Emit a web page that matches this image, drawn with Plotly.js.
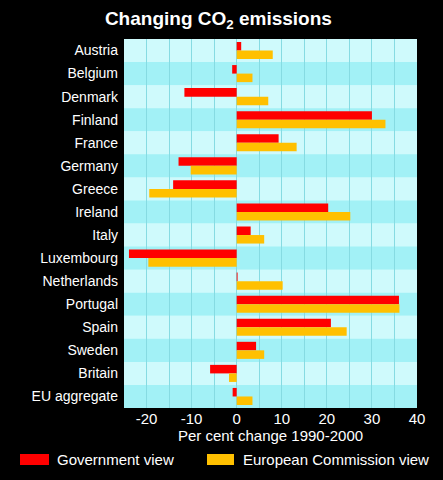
<!DOCTYPE html>
<html>
<head>
<meta charset="utf-8">
<script src="https://cdn.plot.ly/plotly-3.0.1.min.js"></script>
<style>
  html, body { margin: 0; padding: 0; background: #000; }
  #chart { width: 443px; height: 480px; }
</style>
</head>
<body>
<div id="chart"></div>
<script>
const countries = ["Austria", "Belgium", "Denmark", "Finland", "France", "Germany", "Greece", "Ireland",
  "Italy", "Luxembourg", "Netherlands", "Portugal", "Spain", "Sweden", "Britain", "EU aggregate"];
const governmentView = [1, -1, -11.6, 30, 9.3, -12.9, -14.1, 20.3, 3.1, -23.9, 0.2, 36, 20.9, 4.3, -5.9, -0.9];
const commissionView = [8, 3.5, 7, 33, 13.3, -10.2, -19.4, 25.2, 6.1, -19.6, 10.2, 36.1, 24.4, 6.1, -1.7, 3.5];
const xTicks = [-20, -10, 0, 10, 20, 30, 40];
const seriesNames = ["Government view", "European Commission view"];
const seriesColors = ["#ff0000", "#ffc000"];

const font = "Liberation Sans, Arial, sans-serif";

const traces = [
  { type: "bar", orientation: "h", name: seriesNames[0], y: countries, x: governmentView,
    marker: { color: seriesColors[0] }, showlegend: false, hoverinfo: "x+y" },
  { type: "bar", orientation: "h", name: seriesNames[1], y: countries, x: commissionView,
    marker: { color: seriesColors[1] }, showlegend: false, hoverinfo: "x+y" }
];

const shapes = [];
countries.forEach((c, i) => {
  shapes.push({ type: "rect", xref: "paper", yref: "y", x0: 0, x1: 1, y0: i - 0.5, y1: i + 0.5,
    fillcolor: i % 2 === 0 ? "#cffafc" : "#a2f1f6", line: { width: 0 }, layer: "below" });
});
// legend swatches
shapes.push({ type: "rect", xref: "paper", yref: "paper",
  x0: (20 - 124) / 293, x1: (49 - 124) / 293, y0: -(454 - 408) / 369, y1: -(465 - 408) / 369,
  fillcolor: seriesColors[0], line: { width: 0 } });
shapes.push({ type: "rect", xref: "paper", yref: "paper",
  x0: (207 - 124) / 293, x1: (234 - 124) / 293, y0: -(454 - 408) / 369, y1: -(465 - 408) / 369,
  fillcolor: seriesColors[1], line: { width: 0 } });

const annotations = [
  { xref: "paper", yref: "paper", x: (55 - 124) / 293, y: -(460 - 408) / 369, xanchor: "left", yanchor: "middle",
    text: seriesNames[0], showarrow: false, font: { family: font, size: 15, color: "#fff" } },
  { xref: "paper", yref: "paper", x: (241 - 124) / 293, y: -(460 - 408) / 369, xanchor: "left", yanchor: "middle",
    text: seriesNames[1], showarrow: false, font: { family: font, size: 15, color: "#fff" } }
];

const layout = {
  width: 443, height: 480,
  paper_bgcolor: "#000", plot_bgcolor: "#cffafc",
  margin: { l: 124, r: 26, t: 39, b: 72 },
  title: { text: "<b>Changing CO<sub>2</sub> emissions</b>", x: 0.493, xanchor: "center", y: 0.962, yanchor: "middle",
    font: { family: font, size: 19, color: "#fff" } },
  barmode: "group", bargap: 0.26, bargroupgap: 0,
  xaxis: { range: [-25, 40], tickvals: xTicks, ticktext: xTicks.map(String),
    showgrid: true, gridcolor: "#86dbe2", gridwidth: 1, zeroline: false,
    ticks: "", tickfont: { family: font, size: 15, color: "#fff" }, fixedrange: true,
    minor: { dtick: 5, tick0: 0, showgrid: true, gridcolor: "#86dbe2", gridwidth: 1 },
    title: { text: "Per cent change 1990-2000", standoff: 0, font: { family: font, size: 15, color: "#fff" } } },
  yaxis: { autorange: "reversed", showgrid: false, zeroline: false, ticks: "",
    ticklabelstandoff: 5,
    tickfont: { family: font, size: 14, color: "#fff" }, fixedrange: true },
  shapes: shapes,
  annotations: annotations
};

Plotly.newPlot("chart", traces, layout, { displayModeBar: false, staticPlot: true });
</script>
</body>
</html>
